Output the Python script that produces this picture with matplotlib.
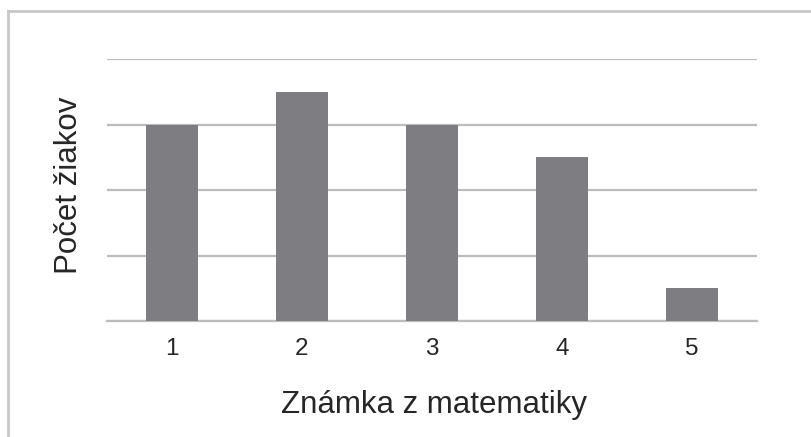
import numpy as np
import matplotlib
matplotlib.use('Agg')
import matplotlib.pyplot as plt
from matplotlib.lines import Line2D

# data
grades = ['1', '2', '3', '4', '5']
students = [6, 7, 6, 5, 1]
yticks = [0, 2, 4, 6, 8]

plt.rcParams['font.family'] = ['Liberation Sans', 'DejaVu Sans']

W, H = 812, 437
fig = plt.figure(figsize=(W / 100, H / 100), dpi=100)
ax = fig.add_axes([107/W, 116/H, 650/W, 262/H])

x = np.arange(len(grades))
ax.bar(x, students, width=0.4, color='#7e7e82', zorder=3)

ax.set_xlim(-0.5, len(grades) - 0.5)
ax.set_ylim(0, 8)
ax.set_yticks(yticks)
ax.set_yticklabels([])
ax.tick_params(axis='y', length=0)
ax.set_xticks(x)
ax.set_xticklabels(grades, fontsize=17.5, color='#262626')
ax.tick_params(axis='x', length=0, pad=12.5)
ax.grid(axis='y', color='#bcbcbc', linewidth=1.6, zorder=0)
for s in ['top', 'right', 'left']:
    ax.spines[s].set_visible(False)
ax.spines['bottom'].set_color('#bcbcbc')
ax.spines['bottom'].set_linewidth(1.6)

# axis titles placed by baseline
fig.text(434/W, 1 - 413/H, 'Známka z matematiky', fontsize=22.5, color='#262626',
         ha='center', va='baseline')
fig.text(77/W, 1 - 185/H, 'Počet žiakov', fontsize=22.5, color='#262626',
         ha='center', va='baseline', rotation=90, rotation_mode='anchor')

# outer frame (top and left edges visible)
fig.add_artist(Line2D([8/W, 8/W], [0, 1 - 11/H], color='#c8c8c8', lw=2, transform=fig.transFigure))
fig.add_artist(Line2D([8/W, 1], [1 - 11/H, 1 - 11/H], color='#c8c8c8', lw=2, transform=fig.transFigure))

fig.savefig('out.png', dpi=100)
